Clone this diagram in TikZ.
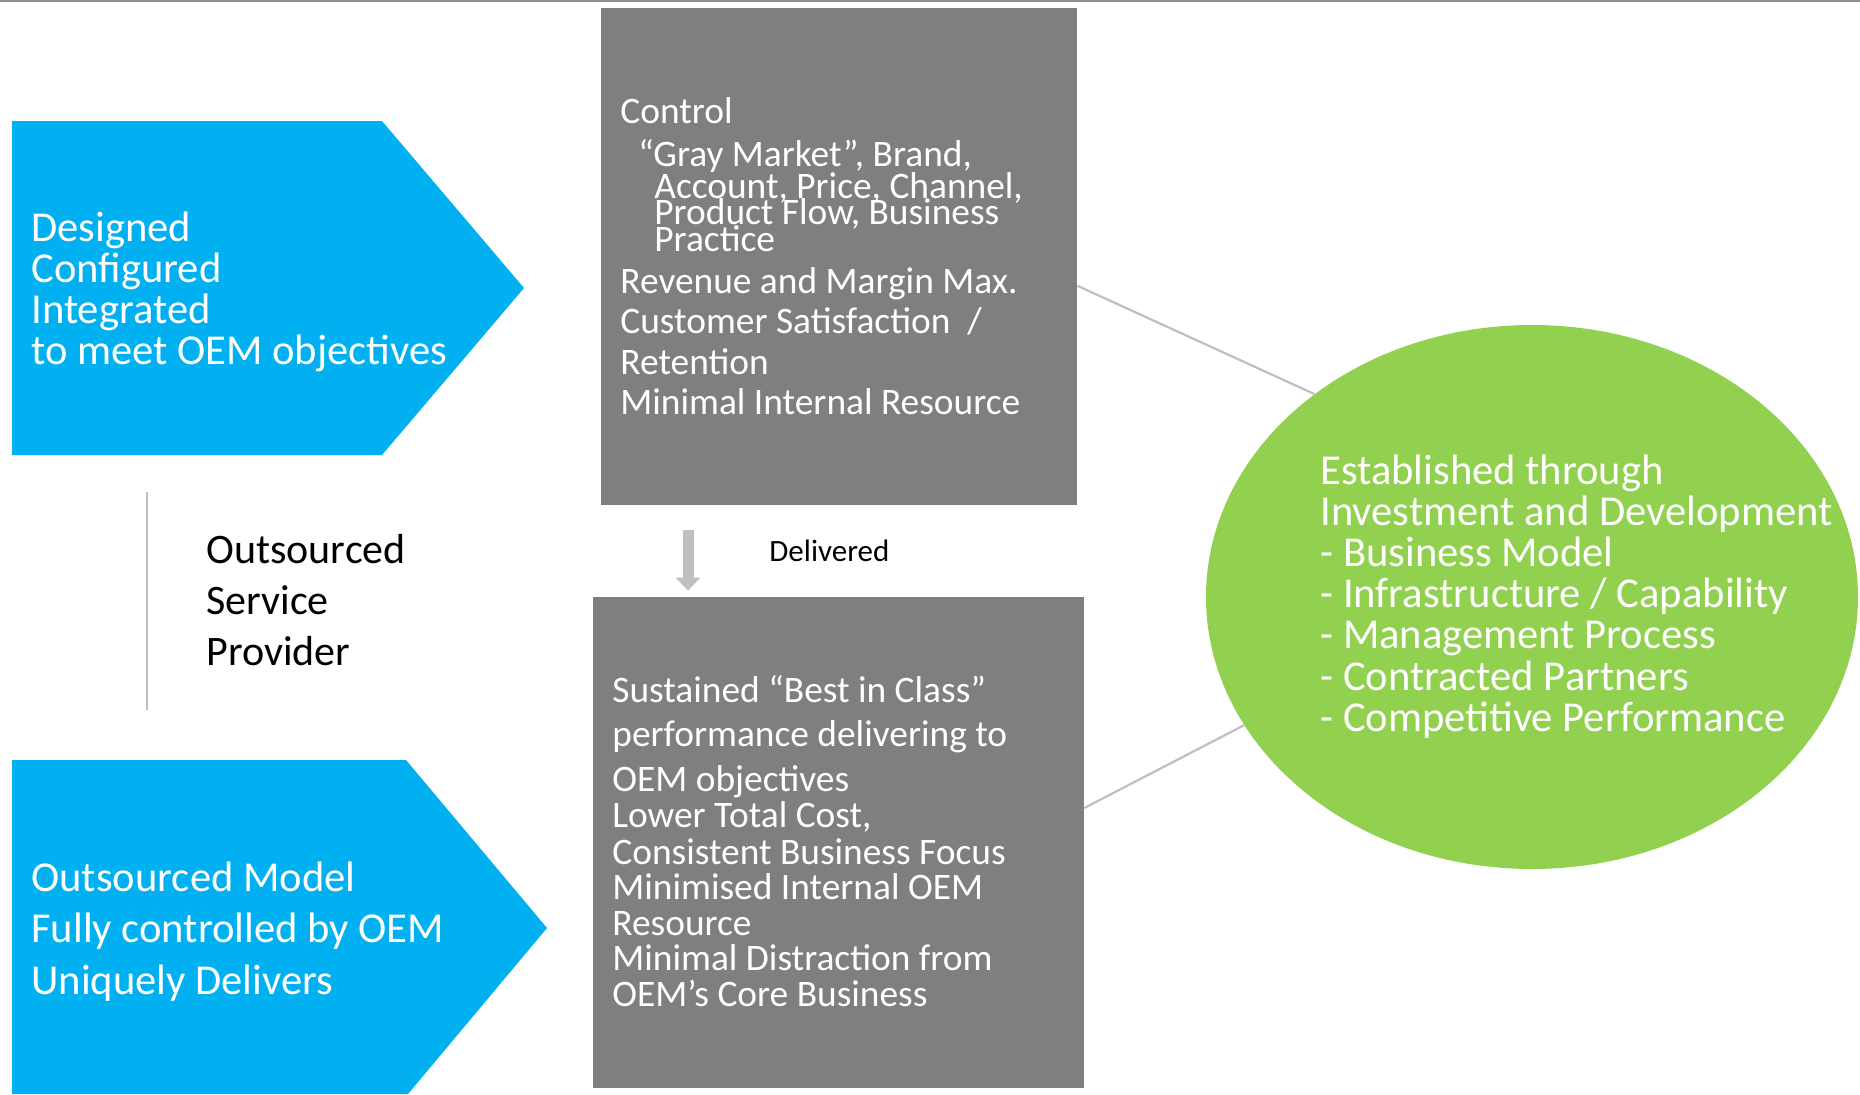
\documentclass[tikz,border=0pt]{standalone}
\usepackage{fontspec}
\setmainfont{Carlito}
\usetikzlibrary{shapes.geometric,arrows.meta}
\usepackage{xcolor}
\definecolor{oemblue}{HTML}{00B0F0}
\definecolor{boxgray}{HTML}{7F7F7F}
\definecolor{leafgreen}{HTML}{92D050}
\definecolor{linegray}{HTML}{BFBFBF}
\definecolor{rulegray}{HTML}{8E8E96}
\newcommand{\setfs}[2]{\fontsize{#1}{#2}\selectfont\lineskiplimit=-30pt}

\begin{document}
\begin{tikzpicture}[x=0.5pt,y=-0.5pt,
    panel/.style={rectangle,fill=boxgray,inner sep=0pt},
    txt/.style={anchor=base west,inner sep=0pt,align=flush left,text=white},
    link/.style={draw=linegray,line width=1.1pt},
    deliv/.style={draw=linegray,line width=5.5pt,-{Triangle[width=12pt,length=6.5pt]}}]
        \useasboundingbox (0,0) rectangle (1860,1094);
        \draw[rulegray,line width=1pt] (0,1) -- (1860,1); % linea superior
        % flecha azul de arriba
        \fill[oemblue] (12,121) -- (382,121) -- (524,288) -- (382,455) -- (12,455) -- cycle;
        \node[txt,text width=230pt,font=\setfs{21.3}{20.5}] (designed) at (31,241)
            {Designed\\Configured\\Integrated\\to meet OEM objectives};
        % flecha azul de abajo
        \fill[oemblue] (12,760) -- (406,760) -- (547,928) -- (408,1094) -- (12,1094) -- cycle;
        \node[txt,text width=230pt,font=\setfs{21.3}{25.75}] (model) at (31,891)
            {Outsourced Model\\Fully controlled by OEM\\Uniquely Delivers};
        % separador y proveedor
        \draw[link] (147,492) -- (147,710);
        \node[txt,text=black,text width=150pt,font=\setfs{21}{25.5}] (provider) at (206,563)
            {Outsourced\\Service\\Provider};
        % caja de control
        \node[panel,minimum width=238pt,minimum height=248.5pt] (control) at (839,256.5) {};
        \node[txt,text width=235pt,font=\setfs{18.7}{20.5}] (controltxt) at (620,123)
            {Control\\[1pt]
             \hspace*{9pt}“Gray Market”, Brand,\\[-4.5pt]
             \hspace*{17pt}Account, Price, Channel,\\[-7.5pt]
             \hspace*{17pt}Product Flow, Business\\[-7pt]
             \hspace*{17pt}Practice\\[0.5pt]
             Revenue and Margin Max.\\[-0.5pt]
             Customer Satisfaction\ \ /\\
             Retention\\[-0.5pt]
             Minimal Internal Resource};
        % caja de resultados
        \node[panel,minimum width=245.5pt,minimum height=245.5pt] (sustain) at (838.5,842.5) {};
        \node[txt,text width=240pt,font=\setfs{18.7}{18}] (sustaintxt) at (612,702)
            {Sustained “Best in Class”\\[4pt]
             performance delivering to\\[4.5pt]
             OEM objectives\\
             Lower Total Cost,\\[0.5pt]
             Consistent Business Focus\\[-0.5pt]
             Minimised Internal OEM\\
             Resource\\[-0.5pt]
             Minimal Distraction from\\
             OEM’s Core Business};
        % flecha delivered
        \draw[deliv] ([xshift=-75.5pt,yshift=-12.5pt]control.south) -- ([xshift=-75.25pt,yshift=3pt]sustain.north);
        \node[txt,text=black,font=\setfs{15.5}{18}] (delivered) at (769,561) {Delivered};
        % elipse verde
        \node[ellipse,fill=leafgreen,inner sep=0pt,minimum width=326pt,minimum height=272pt] (found) at (1532,597) {};
        \node[txt,text width=270pt,font=\setfs{21.3}{20.6}] (foundtxt) at (1320,484)
            {Established through\\Investment and Development\\- Business Model\\- Infrastructure / Capability\\- Management Process\\- Contracted Partners\\- Competitive Performance};
        % lineas hacia la elipse
        \draw[link] (control.-7.5) -- (found.137);
        \draw[link] (sustain.8.2) -- (found.204);
\end{tikzpicture}
\end{document}
